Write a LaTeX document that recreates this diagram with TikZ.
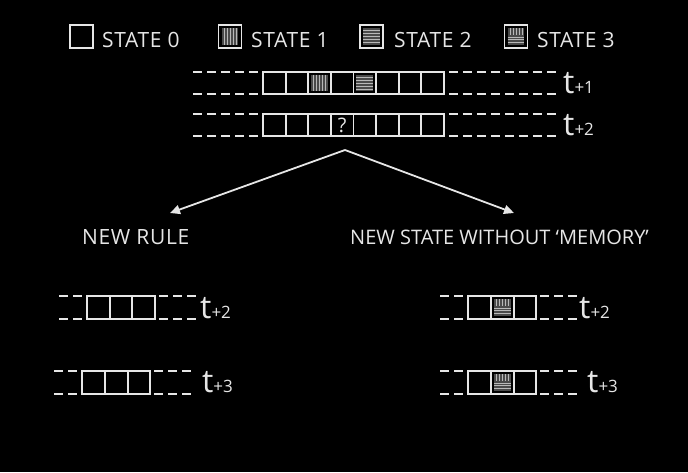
\documentclass[tikz,border=0pt]{standalone}
\usepackage{fontspec}
\setmainfont{Open Sans}
\newfontfamily\hand[LetterSpace=3,Ligatures=TeX]{Open Sans}
\newfontfamily\handn[Ligatures=TeX]{Open Sans}
\usetikzlibrary{arrows.meta,calc}
\definecolor{fg}{HTML}{E6E6E6}
\definecolor{sbg}{HTML}{4A4A4A}
\definecolor{sln}{HTML}{B8B8B8}
\newcommand\SV[1]{\begin{scope}[shift={(#1.center)}]
  \fill[sbg] (-8.4,-8.4) rectangle (8.4,8.4);
  \foreach \x in {-6,-3,0,3,6}\draw[stripe] (\x,-8.4) -- (\x,8.4);
\end{scope}}
\newcommand\SH[1]{\begin{scope}[shift={(#1.center)}]
  \fill[sbg] (-8.4,-8.4) rectangle (8.4,8.4);
  \foreach \y in {-6,-3,0,3,6}\draw[stripe] (-8.4,\y) -- (8.4,\y);
\end{scope}}
\newcommand\SC[1]{\begin{scope}[shift={(#1.center)}]
  \fill[sbg] (-8.4,-8.4) rectangle (8.4,8.4);
  \foreach \x in {-6,-3,0,3,6}\draw[stripe] (\x,-8.4) -- (\x,-1.8);
  \foreach \y in {0.8,3.4,6.0}\draw[stripe] (-8.4,\y) -- (8.4,\y);
\end{scope}}
\begin{document}
\begin{tikzpicture}[x=1pt,y=-1pt,
 cell/.style={draw=fg, line width=1.8pt, minimum size=22.6pt, inner sep=0pt, outer sep=0pt},
 lcell/.style={cell, minimum size=23pt},
 dl/.style={draw=fg, line width=1.8pt, dash pattern=on 9pt off 5pt},
 lbl/.style={text=fg, inner sep=0pt, anchor=base west, font=\hand\fontsize{21}{21}\selectfont},
 tl/.style={text=fg, inner sep=0pt, anchor=base west, font=\fontsize{32}{32}\selectfont},
 arr/.style={draw=fg, line width=1.8pt, -{Triangle[length=10pt,width=9pt]}},
 stripe/.style={draw=sln, line width=0.9pt}
]
\fill[black] (0,0) rectangle (688,472);
\useasboundingbox (0,0) rectangle (688,472);
% legend
\node[lcell] (l0) at (81.5,36.5) {};
\node[lcell] (l1) at (230,36.5) {};
\node[lcell] (l2) at (371.5,36.5) {};
\node[lcell] (l3) at (516,36.5) {};
\SV{l1}\SH{l2}\SC{l3}
\node[lbl] (t0) at (102,47) {STATE 0};
\node[lbl] (t1) at (251,47) {STATE 1};
\node[lbl] (t2) at (394,47) {STATE 2};
\node[lbl] (t3) at (537,47) {STATE 3};
% rows t+1, t+2
\foreach \k in {1,...,8} \node[cell] (a\k) at ({274.3+22.6*(\k-1)},83) {};
\SV{a3}\SH{a5}
\foreach \k in {1,...,8} \node[cell] (b\k) at ({274.3+22.6*(\k-1)},125) {};
\node[text=fg, inner sep=0pt, font=\fontsize{20}{20}\selectfont] (q) at (b4.center) {?};
\foreach \r in {a,b}{
  \draw[dl] ([xshift=-70pt]\r1.north west) -- ([xshift=-5pt]\r1.north west);
  \draw[dl] ([xshift=-70pt]\r1.south west) -- ([xshift=-5pt]\r1.south west);
  \draw[dl] ([xshift=5pt]\r8.north east) -- ([xshift=113pt]\r8.north east);
  \draw[dl] ([xshift=5pt]\r8.south east) -- ([xshift=113pt]\r8.south east);
}
\node[tl] (la) at (563,93) {t{\fontsize{17}{17}\selectfont +1}};
\node[tl] (lb) at (563,135) {t{\fontsize{17}{17}\selectfont +2}};
% arrows
\coordinate (apex) at (345,150);
\coordinate (aL) at (170,213);
\coordinate (aR) at (514,213);
\draw[arr] (apex) -- (aL);
\draw[arr] (apex) -- (aR);
\node[lbl] (nr) at (82,244) {NEW RULE};
\node[lbl, font=\handn\fontsize{20}{20}\selectfont] (ns) at (350,244) {NEW STATE WITHOUT `MEMORY'};
% lower left
\foreach \k in {1,2,3} \node[cell] (c\k) at ({98.3+22.7*(\k-1)},307.5) {};
\foreach \k in {1,2,3} \node[cell] (d\k) at ({93.5+22.7*(\k-1)},382.5) {};
% lower right
\foreach \k in {1,2,3} \node[cell] (e\k) at ({479.5+22.7*(\k-1)},307.5) {};
\foreach \k in {1,2,3} \node[cell] (f\k) at ({479.5+22.7*(\k-1)},382.5) {};
\SC{e2}\SC{f2}
\foreach \r in {c,d,e,f}{
  \draw[dl] ([xshift=-28pt]\r1.north west) -- ([xshift=-5pt]\r1.north west);
  \draw[dl] ([xshift=-28pt]\r1.south west) -- ([xshift=-5pt]\r1.south west);
  \draw[dl] ([xshift=4pt]\r3.north east) -- ([xshift=41pt]\r3.north east);
  \draw[dl] ([xshift=4pt]\r3.south east) -- ([xshift=41pt]\r3.south east);
}
\node[tl] (lc) at (200,318) {t{\fontsize{17}{17}\selectfont +2}};
\node[tl] (ld) at (202,392) {t{\fontsize{17}{17}\selectfont +3}};
\node[tl] (le) at (579,318) {t{\fontsize{17}{17}\selectfont +2}};
\node[tl] (lf) at (587,392) {t{\fontsize{17}{17}\selectfont +3}};
\end{tikzpicture}
\end{document}
